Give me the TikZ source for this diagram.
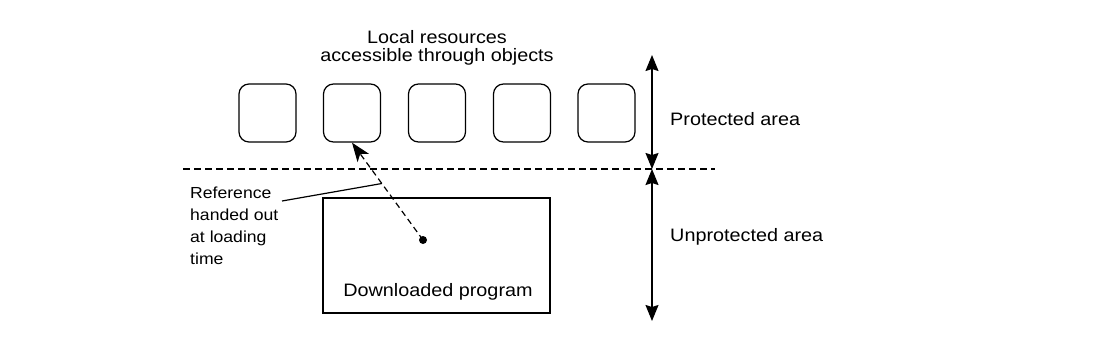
\documentclass[tikz,border=0pt]{standalone}
\usepackage{fontspec}
\setmainfont{Liberation Sans}[FakeStretch=1.1]
\usetikzlibrary{arrows.meta}
\begin{document}
\begin{tikzpicture}[x=1pt,y=-1pt,
  lbl/.style={font=\fontsize{18}{22}\selectfont, inner sep=0pt},
  resbox/.style={draw, line width=1.2pt, rounded corners=10pt, minimum width=57pt, minimum height=58pt, inner sep=0pt},
  progbox/.style={draw, line width=1.2pt, minimum width=227pt, minimum height=115pt, inner sep=0pt},
  sep/.style={line width=1.2pt, dash pattern=on 7pt off 4pt},
  dbl/.style={line width=1.2pt, {Stealth[length=16pt,width=13pt,inset=2pt]}-{Stealth[length=16pt,width=13pt,inset=2pt]}},
  refarrow/.style={line width=1.2pt, dash pattern=on 6pt off 4pt, -{Stealth[length=19pt,width=14pt,inset=5pt]}}
]
\useasboundingbox (0,0) rectangle (1114,354);
\node[lbl, font=\fontsize{18}{18}\selectfont, align=center] (title) at (437,48) {Local resources\\accessible through objects};
\node[resbox] (b1) at (267.5,113) {};
\node[resbox] (b2) at (352,113) {};
\node[resbox] (b3) at (437,113) {};
\node[resbox] (b4) at (522,113) {};
\node[resbox] (b5) at (606.5,113) {};
\coordinate (dl) at (183,169);
\coordinate (dr) at (715,169);
\draw[sep] (dl) -- (dr);
\coordinate (atop) at (652,55);
\coordinate (amid) at (652,169);
\coordinate (abot) at (652,321);
\draw[dbl] (atop) -- (amid);
\draw[dbl] (amid) -- (abot);
\node[lbl, anchor=west] (prot) at (670,119) {Protected area};
\node[lbl, anchor=west] (unprot) at (670,237) {Unprotected area};
\node[progbox] (prog) at (436.5,255.5) {};
\node[lbl] (progtext) at (438,292) {Downloaded program};
\node[circle, fill, inner sep=0pt, minimum size=8pt] (dot) at (423,240) {};
\draw[refarrow] (dot.center) -- (b2.south) coordinate[pos=0.58] (lp);
\node[lbl, font=\fontsize{16}{22}\selectfont, align=left, anchor=north west] (ref) at (190,187) {Reference\\handed out\\at loading\\time};
\coordinate (ls) at (282,201);
\draw[line width=1.2pt] (ls) -- (lp);
\end{tikzpicture}
\end{document}
